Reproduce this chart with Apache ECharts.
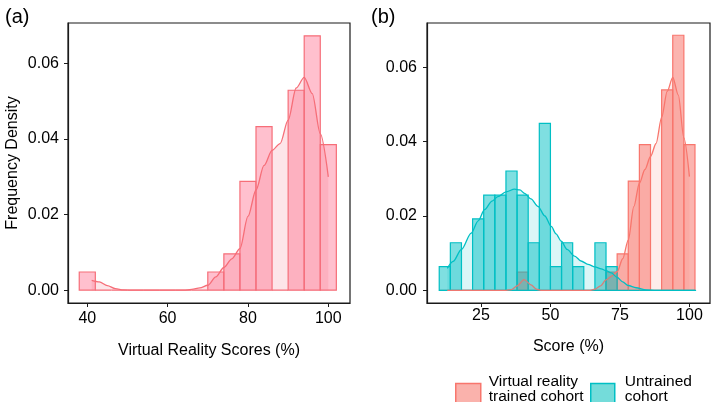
<!DOCTYPE html>
<html>
<head>
<meta charset="utf-8">
<script src="https://cdn.jsdelivr.net/npm/echarts@6/dist/echarts.min.js"></script>
<style>
html,body{margin:0;padding:0;background:#fff;}
#c{width:712px;height:402px;}
</style>
</head>
<body>
<div id="c"></div>
<script>
// ---------- data ----------
const binWidth = 4;
// Panel (a): histogram of VR scores (bin start, density)
const aBinStarts = [38,42,46,50,54,58,62,66,70,74,78,82,86,90,94,98];
const aDensity   = [0.0048,0,0,0,0,0,0,0,0.0048,0.0096,0.0288,0.0433,0,0.0529,0.0673,0.0385];
// Panel (a): kernel density curve
const aKdeX = [41.1,43,45,47,49,52,64,66,68,70,72,74,76,78,80,82,84,86,88,90,92,94,96,98,100];
const aKdeY = [0.0026,0.0022,0.0012,0.0004,0.00005,0,0,0.0002,0.0006,0.0013,0.0035,0.006,0.0083,0.011,0.0195,0.0265,0.033,0.037,0.0388,0.045,0.0535,0.0563,0.052,0.0414,0.030];

// Panel (b): shared bins
const bBinStarts = [10,14,18,22,26,30,34,38,42,46,50,54,58,62,66,70,74,78,82,86,90,94,98];
const bVrDensity = [0,0,0,0,0,0,0,0.0049,0,0,0,0,0,0,0,0.0049,0.0098,0.0294,0.0392,0,0.0539,0.0686,0.0392];
const bUtDensity = [0.0064,0.0128,0,0.0192,0.0256,0.0256,0.0321,0.0256,0.0128,0.0449,0.0064,0.0128,0.0064,0,0.0128,0.0064,0,0,0,0,0,0,0];
// Panel (b): density curves
const bVrKdeX = [12.9,34,36,38,40.5,43,45,47,64,66,68,70,72,74,76,78,80,82,84,86,88,90,92,94,96,98,100];
const bVrKdeY = [0,0,0.0002,0.0012,0.0029,0.0015,0.0003,0,0,0.0003,0.0012,0.0028,0.0038,0.005,0.0085,0.0135,0.0225,0.0288,0.0325,0.036,0.0395,0.0465,0.0535,0.0573,0.0525,0.041,0.0306];
const bUtKdeX = [12.9,15,18,21.5,24,26.3,29,31.1,34,37.1,39,40.7,43,45.5,48,50.3,52,53.9,56,58.7,61,63.5,66,68.3,70,71.9,74,76,78,80.8,84.4,88,102.4];
const bUtKdeY = [0.0059,0.0078,0.011,0.0154,0.0187,0.0217,0.024,0.0252,0.0265,0.0272,0.027,0.0261,0.0246,0.0226,0.02,0.0172,0.0152,0.0132,0.011,0.0092,0.0079,0.007,0.0063,0.0058,0.0053,0.0047,0.0035,0.0023,0.0013,0.0007,0.0001,0,0];

// ticks
const aXTicks = [40,60,80,100];
const bXTicks = [25,50,75,100];
const yTicks = [0,0.02,0.04,0.06];

const seriesNames = ['Virtual reality trained cohort','Untrained cohort'];
const legendLines = [['Virtual reality','trained cohort'],['Untrained','cohort']];
const panelLabels = ['(a)','(b)'];
const xTitles = ['Virtual Reality Scores (%)','Score (%)'];
const yTitle = 'Frequency Density';

// ---------- helpers ----------
const FONT = '"Liberation Sans", Arial, Helvetica, sans-serif';
function bins(starts, dens){ return starts.map((s,i)=>[s, s+binWidth, dens[i]]); }
function pairs(xs, ys){ return xs.map((x,i)=>[x, ys[i]]); }
function histSeries(name, xi, data, fill, stroke, z){
  return {
    name, type:'custom', xAxisIndex:xi, yAxisIndex:xi, z,
    encode:{x:[0,1], y:2},
    data,
    renderItem(params, api){
      const p0 = api.coord([api.value(0), api.value(2)]);
      const p1 = api.coord([api.value(1), 0]);
      return {type:'rect', shape:{x:p0[0], y:p0[1], width:p1[0]-p0[0], height:p1[1]-p0[1]},
        style:{fill, stroke, lineWidth:1.2}};
    },
    silent:true
  };
}
function kdeSeries(name, xi, data, line, area, z){
  return {
    name, type:'line', xAxisIndex:xi, yAxisIndex:xi, z,
    data, smooth:0.3, smoothMonotone:'x', showSymbol:false, symbol:'none',
    lineStyle:{color:line, width:1.3},
    areaStyle:{color:area, origin:0},
    silent:true
  };
}
function xAxis(gi, min, max, ticks, title, margin, gap){
  return {
    type:'value', gridIndex:gi, min, max,
    name:title, nameLocation:'middle', nameGap:gap,
    nameTextStyle:{fontFamily:FONT, fontSize:16, color:'#000'},
    axisLine:{show:true, onZero:false, lineStyle:{color:'#1a1a1a', width:1.2}},
    axisTick:{show:true, length:4, customValues:ticks, lineStyle:{color:'#1a1a1a'}},
    axisLabel:{customValues:ticks, margin, fontFamily:FONT, fontSize:16, color:'#000'},
    splitLine:{show:false}
  };
}
function yAxis(gi, min, max, title, margin, gap){
  return {
    type:'value', gridIndex:gi, min, max,
    name:title, nameLocation:'middle', nameGap:gap,
    nameTextStyle:{fontFamily:FONT, fontSize:16, color:'#000'},
    axisLine:{show:true, onZero:false, lineStyle:{color:'#1a1a1a', width:1.2}},
    axisTick:{show:true, length:4, customValues:yTicks, lineStyle:{color:'#1a1a1a'}},
    axisLabel:{customValues:yTicks, margin, fontFamily:FONT, fontSize:16, color:'#000',
      formatter:v=>v.toFixed(2)},
    splitLine:{show:false}
  };
}
const legendRich = {
  t:{fontFamily:FONT, fontSize:15.5, color:'#000', lineHeight:15},
  s:{fontSize:4, lineHeight:12}
};
function legendText(lines){ return lines.map(l=>'{t|'+l+'}').join('\n') + '\n{s| }'; }

const chart = echarts.init(document.getElementById('c'), null, {renderer:'canvas'});
chart.setOption({
  animation:false,
  backgroundColor:'#fff',
  title:[
    {text:panelLabels[0], left:0, top:2, textStyle:{fontFamily:FONT, fontSize:20, fontWeight:'normal', color:'#000'}},
    {text:panelLabels[1], left:366, top:2, textStyle:{fontFamily:FONT, fontSize:20, fontWeight:'normal', color:'#000'}}
  ],
  grid:[
    {left:68, top:23, width:282, height:280, show:true, borderColor:'#1a1a1a', borderWidth:1.2, backgroundColor:'transparent'},
    {left:427, top:23, width:283, height:280, show:true, borderColor:'#1a1a1a', borderWidth:1.2, backgroundColor:'transparent'}
  ],
  xAxis:[
    xAxis(0, 35.2, 105.4, aXTicks, xTitles[0], 8, 40),
    xAxis(1, 5.6, 107.4, bXTicks, xTitles[1], 5, 36)
  ],
  yAxis:[
    yAxis(0, -0.0034, 0.0707, yTitle, 9, 47),
    yAxis(1, -0.0034, 0.0719, '', 10, 40)
  ],
  legend:[
    {left:455, top:374, orient:'horizontal', selectedMode:false, padding:0,
     itemWidth:25, itemHeight:24,
     data:[{name:seriesNames[0], icon:'rect', itemStyle:{color:'#FAB2AC', borderColor:'#F8766D', borderWidth:1.5}}],
     formatter:()=>legendText(legendLines[0]),
     textStyle:{fontFamily:FONT, fontSize:15.5, color:'#000', padding:[0,0,0,3], rich:legendRich}},
    {left:590, top:374, orient:'horizontal', selectedMode:false, padding:0,
     itemWidth:24, itemHeight:24,
     data:[{name:seriesNames[1], icon:'rect', itemStyle:{color:'#74DCDA', borderColor:'#00BFC4', borderWidth:1.5}}],
     formatter:()=>legendText(legendLines[1]),
     textStyle:{fontFamily:FONT, fontSize:15.5, color:'#000', padding:[0,0,0,5], rich:legendRich}}
  ],
  series:[
    histSeries('VR scores', 0, bins(aBinStarts, aDensity), 'rgba(255,140,165,0.55)', '#F66E78', 2),
    kdeSeries('VR density', 0, pairs(aKdeX, aKdeY), '#F66E78', 'rgba(245,110,130,0.25)', 5),
    histSeries(seriesNames[0], 1, bins(bBinStarts, bVrDensity), 'rgba(248,118,109,0.55)', '#F8766D', 2),
    histSeries(seriesNames[1], 1, bins(bBinStarts, bUtDensity), 'rgba(0,191,196,0.5)', '#00BFC4', 3),
    kdeSeries('VR density b', 1, pairs(bVrKdeX, bVrKdeY), '#F8766D', 'rgba(248,118,109,0.2)', 5),
    kdeSeries('Untrained density', 1, pairs(bUtKdeX, bUtKdeY), '#00BFC4', 'rgba(0,191,196,0.2)', 6)
  ]
});
</script>
</body>
</html>
